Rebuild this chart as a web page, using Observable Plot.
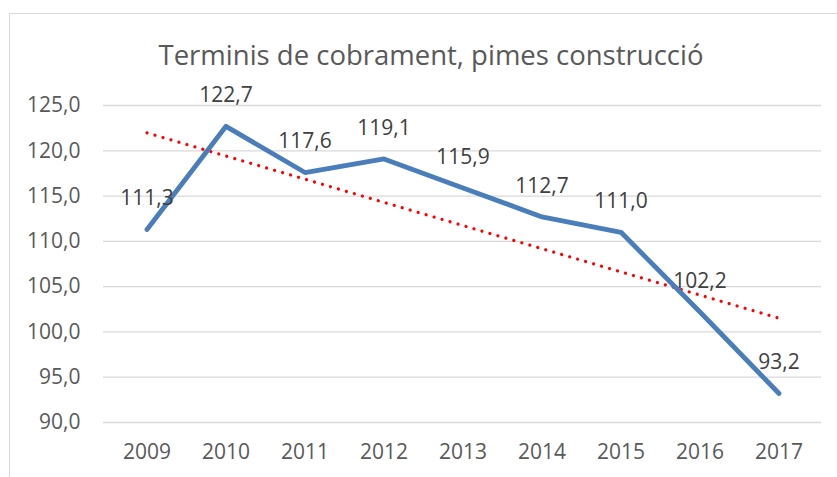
<!DOCTYPE html>
<html><head><meta charset="utf-8">
<script src="https://cdn.jsdelivr.net/npm/d3@7"></script>
<script src="https://cdn.jsdelivr.net/npm/@observablehq/plot@0.6"></script>
<style>
body{margin:0;background:#fff;}
#wrap{position:relative;width:837px;height:477px;overflow:hidden;font-family:"Open Sans",sans-serif;}
#frame{position:absolute;left:9px;top:13px;width:900px;height:600px;border:1px solid #d9d9d9;box-sizing:border-box;}
#title{position:absolute;left:0;top:0;width:862px;height:70px;text-align:center;line-height:110px;font-size:27.5px;color:#595959;white-space:nowrap;}
#chart{position:absolute;left:0;top:70px;}
</style></head>
<body><div id="wrap"><div id="frame"></div><div id="title">Terminis de cobrament, pimes construcció</div><div id="chart"></div></div>
<script>
const years = [2009, 2010, 2011, 2012, 2013, 2014, 2015, 2016, 2017];
const values = [111.3, 122.7, 117.6, 119.1, 115.9, 112.7, 111.0, 102.2, 93.2];
const yTicks = [90, 95, 100, 105, 110, 115, 120, 125];

const data = years.map((y, i) => ({year: y, value: values[i], idx: i}));
// linear trend (least squares) derived from the data
const n = values.length;
const mx = d3.mean(data, d => d.idx), my = d3.mean(values);
const slope = d3.sum(data, d => (d.idx - mx) * (d.value - my)) / d3.sum(data, d => (d.idx - mx) ** 2);
const trend = [data[0], data[n - 1]].map(d => ({year: d.year, value: my + slope * (d.idx - mx)}));
const fmt = v => v.toFixed(1).replace(".", ",");

const chart = Plot.plot({
  width: 837, height: 407,
  marginLeft: 103, marginRight: 16, marginTop: 35, marginBottom: 55,
  style: {fontFamily: "Open Sans, sans-serif", fontSize: "21px", color: "#595959", background: "transparent"},
  x: {type: "band", domain: years, padding: 0, label: null, tickSize: 0, tickPadding: 22, tickFormat: d => String(d)},
  y: {domain: [90, 125], ticks: yTicks, tickFormat: fmt, label: null, tickSize: 0, tickPadding: 23},
  marks: [
    Plot.ruleY(yTicks, {stroke: "#d9d9d9", strokeWidth: 1.3}),
    Plot.line(trend, {x: "year", y: "value", stroke: "#ff0000", strokeWidth: 3.2, strokeDasharray: "0.01 8.3", strokeLinecap: "round"}),
    Plot.line(data, {x: "year", y: "value", stroke: "#4a7ebb", strokeWidth: 4.8, strokeLinecap: "round", strokeLinejoin: "round"}),
    Plot.text(data, {x: "year", y: "value", text: d => fmt(d.value), dy: -31, fill: "#404040", fontSize: 21})
  ]
});
document.getElementById("chart").appendChild(chart);
</script></body></html>
